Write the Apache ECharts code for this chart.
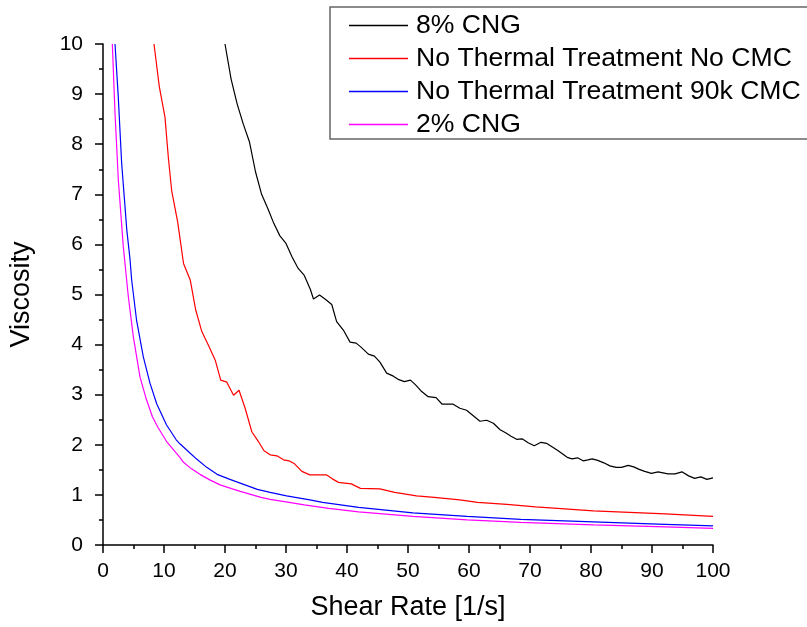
<!DOCTYPE html>
<html>
<head>
<meta charset="utf-8">
<script src="https://cdn.jsdelivr.net/npm/echarts@6/dist/echarts.min.js"></script>
<style>html,body{margin:0;padding:0;background:#fff}#c{width:807px;height:627px}</style>
</head>
<body>
<div id="c"></div>
<script>
const seriesNames = ['8% CNG', 'No Thermal Treatment No CMC', 'No Thermal Treatment 90k CMC', '2% CNG'];
const xTicks = [0, 10, 20, 30, 40, 50, 60, 70, 80, 90, 100];
const yTicks = [0, 1, 2, 3, 4, 5, 6, 7, 8, 9, 10];

const cng8 = [[20,10.0],[21,9.3],[22,8.8],[23,8.4],[24,8.05],[25,7.45],[26,7.0],[27,6.72],[28,6.42],[29,6.17],[30,6.02],[31,5.75],[32,5.52],[33,5.38],[34,5.1],[34.5,4.91],[35.5,4.99],[36.5,4.9],[37.5,4.8],[38.3,4.46],[39.4,4.29],[40.5,4.05],[41.5,4.03],[42.3,3.95],[43.5,3.81],[44.5,3.77],[45.4,3.65],[46.5,3.43],[47.6,3.37],[48.5,3.30],[49.4,3.26],[50.4,3.29],[51.2,3.2],[52.1,3.08],[53.3,2.96],[54.6,2.94],[55.6,2.81],[56.5,2.81],[57.4,2.81],[58.5,2.73],[59.6,2.69],[60.7,2.58],[61.8,2.47],[62.9,2.49],[64.0,2.43],[65.1,2.30],[66.0,2.24],[66.9,2.17],[67.8,2.11],[68.7,2.12],[69.7,2.04],[70.7,1.98],[71.8,2.05],[72.7,2.03],[73.6,1.96],[74.5,1.89],[75.3,1.82],[76.1,1.75],[76.9,1.72],[77.8,1.74],[78.7,1.68],[79.5,1.70],[80.2,1.72],[81.1,1.69],[82.1,1.64],[83.1,1.58],[84.1,1.55],[85.0,1.55],[86.1,1.59],[87.0,1.56],[87.9,1.51],[88.8,1.47],[89.9,1.43],[91.0,1.46],[91.8,1.44],[92.6,1.42],[93.8,1.42],[94.9,1.46],[96.0,1.38],[97.0,1.33],[98.0,1.36],[99.0,1.31],[100,1.34]];

const noCmc = [[8.36,10.0],[9.23,9.15],[10.16,8.54],[10.7,7.75],[11.26,7.07],[12.24,6.45],[13.2,5.62],[14.3,5.29],[15.2,4.69],[16.2,4.26],[17.3,3.98],[18.4,3.69],[19.3,3.29],[20.3,3.25],[21.4,2.99],[22.3,3.09],[23.3,2.73],[24.4,2.26],[25.5,2.06],[26.4,1.88],[27.4,1.80],[28.5,1.78],[29.6,1.70],[30.5,1.68],[31.4,1.62],[32.6,1.47],[33.9,1.40],[35.2,1.40],[36.6,1.40],[37.6,1.32],[38.6,1.25],[40.7,1.22],[42.2,1.13],[45.4,1.12],[47.8,1.05],[51.4,0.98],[54.3,0.95],[58.5,0.90],[61.4,0.85],[66.2,0.81],[70.9,0.76],[74.5,0.73],[80.4,0.68],[86.3,0.65],[92.2,0.62],[100,0.57]];

const cmc90k = [[1.97,10.0],[2.5,8.95],[3.06,7.62],[3.9,6.29],[4.43,5.7],[4.7,5.29],[5.5,4.49],[6.6,3.76],[7.7,3.23],[8.8,2.82],[10.4,2.40],[12.0,2.10],[12.6,2.02],[14.3,1.83],[15.3,1.72],[17.0,1.55],[18.7,1.41],[20.8,1.31],[23.5,1.19],[25.3,1.11],[27.4,1.05],[30.1,0.98],[33.9,0.90],[36.0,0.85],[41.9,0.75],[50.8,0.64],[59.7,0.57],[68.5,0.51],[80.4,0.46],[92.2,0.41],[100,0.38]];

const cng2 = [[1.53,10.0],[1.97,8.62],[2.51,7.29],[3.33,5.95],[4.15,4.96],[4.97,4.16],[6.07,3.35],[7.0,2.95],[8.1,2.56],[9.0,2.35],[10.4,2.07],[12.6,1.75],[13.2,1.65],[14.5,1.52],[15.9,1.41],[17.5,1.30],[19.2,1.20],[21.2,1.12],[22.5,1.07],[25.9,0.95],[27.4,0.91],[30,0.86],[33.0,0.80],[37,0.73],[41.9,0.66],[50.8,0.57],[59.7,0.50],[68.5,0.45],[80.4,0.40],[92.2,0.36],[100,0.33]];

const colors = ['#000000', '#ff0000', '#0000ff', '#ff00ff'];
const dataSets = [cng8, noCmc, cmc90k, cng2];
const FONT = '"Liberation Sans", Arial, sans-serif';

const chart = echarts.init(document.getElementById('c'), null, {renderer: 'canvas'});
const axisCommon = {
  axisLine: {show: true, onZero: false, lineStyle: {color: '#000', width: 1.5}},
  axisTick: {show: true, inside: false, length: 8, lineStyle: {color: '#000', width: 1.5}},
  minorTick: {show: true, splitNumber: 2, length: 4, lineStyle: {color: '#000', width: 1.5}},
  splitLine: {show: false},
  minorSplitLine: {show: false}
};
chart.setOption({
  animation: false,
  backgroundColor: '#fff',
  textStyle: {fontFamily: FONT},
  grid: {left: 103, right: 94, top: 44, bottom: 82, containLabel: false},
  legend: {
    left: 330, top: 7,
    orient: 'vertical',
    data: seriesNames.map(n => ({name: n, icon: 'rect'})),
    itemWidth: 59, itemHeight: 1.3, itemGap: 6,
    padding: [5, 40, 1, 19],
    borderColor: '#666', borderWidth: 1.5,
    textStyle: {fontSize: 26.6, fontFamily: FONT, color: '#000', lineHeight: 26, padding: [0, 0, 0, 3]},
    selectedMode: false
  },
  xAxis: Object.assign({
    type: 'value', min: xTicks[0], max: xTicks[xTicks.length - 1], interval: 10,
    name: 'Shear Rate [1/s]', nameLocation: 'middle', nameGap: 49,
    nameTextStyle: {fontSize: 27, fontFamily: FONT, color: '#000'},
    axisLabel: {fontSize: 21, fontFamily: FONT, color: '#000', margin: 16}
  }, axisCommon),
  yAxis: Object.assign({
    type: 'value', min: yTicks[0], max: yTicks[yTicks.length - 1], interval: 1,
    name: 'Viscosity', nameLocation: 'middle', nameGap: 68,
    nameTextStyle: {fontSize: 27, fontFamily: FONT, color: '#000'},
    axisLabel: {fontSize: 21, fontFamily: FONT, color: '#000', margin: 20}
  }, axisCommon),
  series: seriesNames.map((n, i) => ({
    name: n, type: 'line', data: dataSets[i],
    symbol: 'none', showSymbol: false, smooth: false, clip: true,
    lineStyle: {color: colors[i], width: 1.2},
    itemStyle: {color: colors[i]}
  }))
});
</script>
</body>
</html>
